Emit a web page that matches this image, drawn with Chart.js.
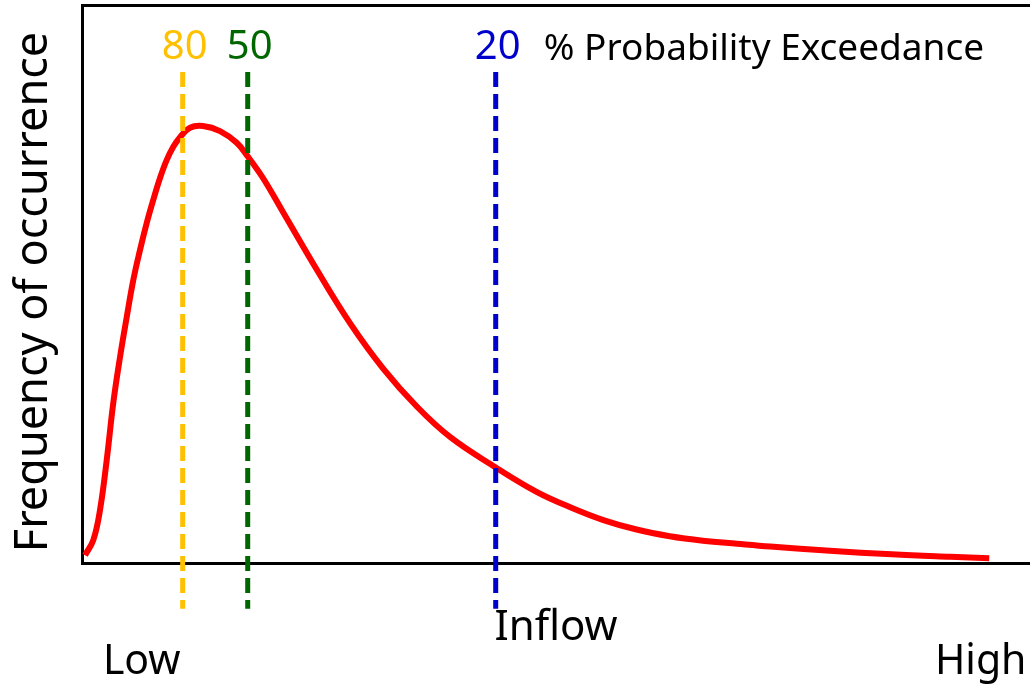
<!DOCTYPE html>
<html>
<head>
<meta charset="utf-8">
<title>Probability Exceedance</title>
<script src="https://cdn.jsdelivr.net/npm/chart.js@4/dist/chart.umd.min.js"></script>
<style>
  html, body { margin: 0; padding: 0; background: #fff; }
  #wrap { width: 1030px; height: 687px; position: relative; }
</style>
</head>
<body>
<div id="wrap"><canvas id="grafico"></canvas></div>
<script>
// curva de frequência (eixo x 0-100, eixo y 0-100)
const inflowX = [0.32, 1.19, 1.90, 2.61, 3.30, 4.01, 4.72, 5.41, 6.12, 6.82, 7.52, 8.23,
  8.93, 9.63, 10.34, 11.39, 12.76, 14.56, 16.32, 17.51, 19.09, 21.2, 24.79, 28.27,
  31.75, 35.34, 38.82, 43.57, 48.0, 51.5, 55.0, 58.5, 62.0, 65.5, 69.1, 72.6,
  78.9, 85.4, 91.6, 95.7];
const frequency = [1.4, 4.1, 9.5, 18.5, 28.7, 36.9, 44.1, 50.7, 56.1, 60.9, 65.1, 69.0,
  72.2, 74.6, 76.3, 78.0, 78.3, 77.4, 75.3, 72.8, 69.0, 62.9, 52.5, 43.0,
  34.9, 28.0, 22.6, 17.2, 12.7, 10.0, 7.7, 6.0, 4.8, 4.0, 3.45, 2.95,
  2.2, 1.55, 1.1, 0.85];

// linhas de probabilidade de excedência
const exceedLabels = ['80', '50', '20'];
const exceedX = [10.62, 17.48, 43.64];
const exceedColors = ['#FFC000', '#006600', '#0000CC'];
const lineSpan = [88, -8.2];   // topo e base das linhas tracejadas (unidades do eixo y)

const xTitle = 'Inflow';
const yTitle = 'Frequency of occurrence';
const endLabels = ['Low', 'High'];
const endLabelX = [6.3, 94.8];
const exceedTitle = '% Probability Exceedance';

const FONT = "'Noto Sans', 'DejaVu Sans', sans-serif";

const datasets = [{
  label: 'Frequência',
  data: inflowX.map((x, i) => ({ x: x, y: frequency[i] })),
  borderColor: '#FF0000',
  borderWidth: 6,
  pointRadius: 0,
  tension: 0.4,
  fill: false,
  order: 2
}];

exceedX.forEach((x, i) => {
  datasets.push({
    label: exceedLabels[i],
    data: lineSpan.map(y => ({ x: x, y: y })),
    borderColor: exceedColors[i],
    borderWidth: 5,
    borderDash: [15, 7],
    pointRadius: 0,
    clip: false,
    fill: false,
    order: 1
  });
});

// textos: números acima das linhas, título do eixo y, Low / High
const textosPlugin = {
  id: 'textos',
  afterDraw(chart) {
    const ctx = chart.ctx;
    const xs = chart.scales.x;
    const area = chart.chartArea;
    ctx.save();
    ctx.textBaseline = 'middle';
    ctx.textAlign = 'center';
    ctx.font = '40px ' + FONT;
    exceedX.forEach((x, i) => {
      ctx.fillStyle = exceedColors[i];
      ctx.fillText(exceedLabels[i], xs.getPixelForValue(x) + 2, 48);
    });
    ctx.fillStyle = '#000';
    ctx.textAlign = 'left';
    ctx.font = '37px ' + FONT;
    ctx.fillText(exceedTitle, xs.getPixelForValue(exceedX[2]) + 48, 49);

    ctx.textAlign = 'center';
    ctx.font = '41px ' + FONT;
    endLabels.forEach((t, i) => {
      ctx.fillText(t, xs.getPixelForValue(endLabelX[i]), 662);
    });

    // título do eixo y
    ctx.translate(34, (area.top + area.bottom) / 2 + 8);
    ctx.rotate(-Math.PI / 2);
    ctx.font = '45px ' + FONT;
    ctx.fillText(yTitle, 0, 0);
    ctx.restore();
  }
};

new Chart(document.getElementById('grafico'), {
  type: 'line',
  data: { datasets: datasets },
  options: {
    responsive: true,
    maintainAspectRatio: false,
    animation: false,
    layout: { padding: { top: 5, right: 0, left: 0, bottom: 0 } },
    scales: {
      x: {
        type: 'linear',
        min: 0,
        max: 100,
        ticks: { display: false },
        grid: { display: false },
        border: { display: true, color: '#000', width: 3 },
        title: {
          display: true,
          text: xTitle,
          color: '#000',
          font: { family: FONT, size: 42 },
          padding: { top: 0, bottom: 34 }
        },
        afterFit: s => { s.height = 124; }
      },
      xTopo: {
        type: 'linear',
        position: 'top',
        min: 0,
        max: 100,
        ticks: { display: false },
        grid: { display: false },
        border: { display: true, color: '#000', width: 3 },
        afterFit: s => { s.height = 0; }
      },
      y: {
        min: 0,
        max: 100,
        ticks: { display: false },
        grid: { display: false },
        border: { display: true, color: '#000', width: 3 },
        afterFit: s => { s.width = 82; }
      }
    },
    plugins: {
      legend: { display: false },
      tooltip: { enabled: false }
    }
  },
  plugins: [textosPlugin]
});
</script>
</body>
</html>
